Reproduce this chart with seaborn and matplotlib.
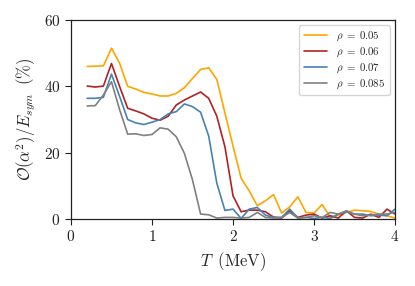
import matplotlib
matplotlib.use("Agg")
import matplotlib.pyplot as plt
import matplotlib.ticker as mticker
import seaborn as sns
import pandas as pd

T = [0.2, 0.3, 0.4, 0.5, 0.6, 0.7, 0.8, 0.9, 1.0, 1.1, 1.2, 1.3, 1.4, 1.5, 1.6, 1.7, 1.8, 1.9, 2.0,
     2.1, 2.2, 2.3, 2.4, 2.5, 2.6, 2.7, 2.8, 2.9, 3.0, 3.1, 3.2, 3.3, 3.4, 3.5, 3.6, 3.7, 3.8, 3.9, 4.0]

rho_005 = [46.0, 46.1, 46.2, 51.5, 47.0, 40.0, 39.2, 38.2, 37.7, 37.1, 37.1, 37.9, 39.6, 42.4, 45.1, 45.6, 42.1, 32.0, 22.0,
           12.3, 8.5, 4.0, 5.5, 7.4, 1.8, 3.7, 6.7, 2.0, 1.8, 4.4, 0.6, 1.2, 2.0, 2.7, 2.5, 2.3, 1.5, 1.0, 0.3]
rho_006 = [40.1, 39.8, 40.1, 46.9, 40.0, 33.4, 32.6, 31.7, 30.4, 29.8, 31.0, 34.4, 35.9, 37.1, 38.3, 36.4, 31.0, 21.8, 7.0,
           2.2, 2.7, 2.7, 2.2, 0.6, 0.3, 2.5, 0.5, 1.2, 1.5, 0.3, 1.0, 0.3, 2.5, 0.5, 0.3, 1.5, 0.5, 3.0, 1.5]
rho_007 = [36.4, 36.4, 36.7, 43.7, 37.0, 30.0, 29.0, 28.5, 29.2, 30.0, 31.7, 32.4, 34.7, 33.9, 32.2, 25.0, 10.8, 2.6, 3.0,
           0.2, 3.0, 3.5, 1.2, 0.5, 0.5, 3.0, 0.3, 0.5, 0.2, 0.5, 0.2, 1.5, 2.2, 1.5, 1.5, 1.0, 1.2, 1.0, 3.0]
rho_0085 = [34.1, 34.2, 37.4, 41.4, 33.0, 25.6, 25.7, 25.2, 25.5, 27.5, 27.1, 24.8, 19.8, 11.8, 1.5, 1.3, 0.3, 0.5, 0.5,
            0.3, 0.5, 2.0, 0.5, 0.3, 0.5, 2.0, 0.3, 0.5, 1.0, 0.5, 2.0, 1.5, 2.5, 1.5, 1.0, 1.2, 1.5, 1.5, 2.0]

labels = [r"$\rho\;=\;0.05$", r"$\rho\;=\;0.06$", r"$\rho\;=\;0.07$", r"$\rho\;=\;0.085$"]
colors = ["#FFA500", "#B22222", "#4682B4", "#808080"]

sns.set_style("ticks")
plt.rcParams["font.family"] = ["DejaVu Serif"]
plt.rcParams["mathtext.fontset"] = "cm"

fig = plt.figure(figsize=(4.15, 2.86), dpi=100)
ax = fig.add_axes([0.171, 0.234, 0.781, 0.696])

for y, lab, c in zip([rho_005, rho_006, rho_007, rho_0085], labels, colors):
    df = pd.DataFrame({"T": T, "val": y})
    sns.lineplot(data=df, x="T", y="val", ax=ax, color=c, linewidth=1.2, label=lab)

ax.set_xlim(0, 4)
ax.set_ylim(0, 60)
ax.set_xticks([0, 1, 2, 3, 4])
ax.set_yticks([0, 20, 40, 60])
fmt = mticker.FuncFormatter(lambda v, _: f"${v:g}$")
ax.xaxis.set_major_formatter(fmt)
ax.yaxis.set_major_formatter(fmt)
ax.tick_params(labelsize=11, length=4, width=0.8, colors="#222222")
for s in ax.spines.values():
    s.set_linewidth(0.9)
    s.set_color("#222222")

ax.set_xlabel(r"$T\;\;(\mathrm{MeV})$", fontsize=12)
ax.set_ylabel(r"$\mathcal{O}(\alpha^2)/E_{sym}\;\;(\%)$", fontsize=12)

leg = ax.legend(loc="upper right", fontsize=7.8, frameon=True, handlelength=2.2,
                borderpad=0.4, labelspacing=0.25, fancybox=True)
leg.get_frame().set_edgecolor("#cccccc")

fig.savefig("out.png", dpi=100)
